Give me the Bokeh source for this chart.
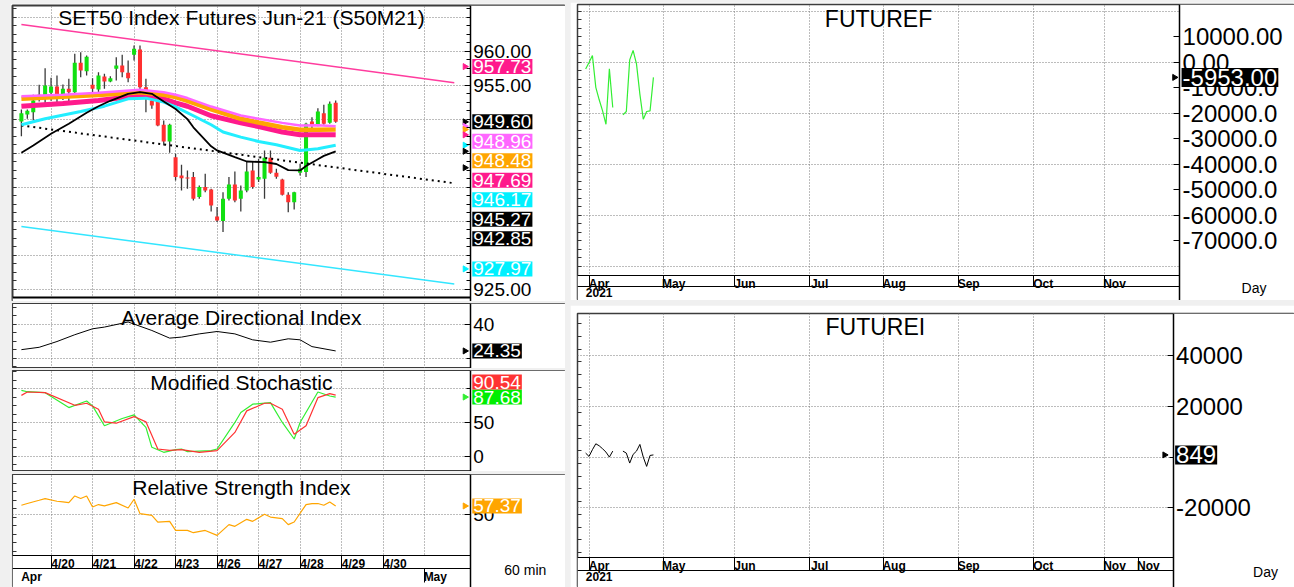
import math
import numpy as np
from bokeh.plotting import figure
from bokeh.layouts import column, row
from bokeh.models import Range1d, LinearAxis, FixedTicker, Grid, Label, ColumnDataSource, Spacer
from bokeh.embed import file_html
from bokeh.resources import INLINE

FONT = "Liberation Sans"
GRID_COL = "#7a7a7a"

# ---------------- SET50 hourly candles (bar index 0..53) ----------------
bar_index = list(range(54))
opens = [949.66, 950.69, 951.03, 953.14, 953.48, 953.87, 954.80, 953.58, 954.46, 953.97,
         958.28, 957.06, 955.05, 954.36, 956.27, 955.54, 957.40, 957.89, 956.81, 959.46,
         960.25, 954.71, 952.75, 952.99, 949.17, 946.72, 944.41, 941.72, 941.40, 941.47,
         938.53, 940.00, 939.66, 935.69, 935.00, 938.28, 940.39, 938.28, 939.51, 942.45,
         941.13, 941.23, 944.31, 942.11, 941.13, 938.87, 937.79, 942.11, 942.21, 949.66,
         949.17, 950.88, 949.46, 952.40]
closes = [950.88, 951.23, 952.75, 953.58, 954.95, 954.80, 953.63, 954.46, 953.97, 958.28,
          957.16, 959.17, 954.46, 956.42, 955.54, 956.03, 957.89, 956.91, 956.03, 960.34,
          954.71, 954.22, 952.01, 949.07, 946.72, 949.17, 941.47, 941.32, 941.25, 938.28,
          940.00, 939.51, 937.30, 935.10, 938.28, 940.39, 938.04, 939.51, 942.30, 940.00,
          941.47, 944.31, 942.11, 941.52, 938.87, 937.79, 939.26, 942.70, 949.31, 949.07,
          951.13, 949.31, 952.25, 949.60]
highs = [951.42, 951.42, 953.58, 955.05, 957.50, 956.08, 956.42, 955.10, 955.93, 959.61,
         959.85, 959.36, 956.03, 956.91, 956.67, 956.32, 959.12, 959.46, 958.63, 960.83,
         960.83, 955.93, 953.24, 953.24, 949.80, 949.31, 944.90, 943.28, 942.45, 942.21,
         940.25, 941.96, 939.75, 937.06, 939.26, 941.47, 942.30, 940.25, 943.68, 943.77,
         944.17, 945.39, 945.39, 942.70, 941.23, 939.26, 939.30, 943.43, 949.46, 950.29,
         951.62, 952.11, 952.60, 952.75]
lows = [947.50, 950.05, 949.80, 952.60, 952.30, 952.70, 952.40, 952.80, 952.50, 953.73,
        956.18, 956.42, 953.48, 953.97, 954.46, 955.44, 955.69, 956.18, 955.44, 958.63,
        954.22, 951.03, 951.52, 948.97, 946.13, 945.05, 940.98, 939.51, 939.75, 938.04,
        938.28, 939.26, 936.42, 934.85, 933.38, 938.04, 937.79, 936.42, 939.26, 939.75,
        940.74, 938.28, 941.96, 941.23, 938.77, 936.32, 936.72, 941.72, 941.47, 948.58,
        948.97, 949.17, 949.31, 949.46]

day_labels = ["4/20", "4/21", "4/22", "4/23", "4/26", "4/27", "4/28", "4/29", "4/30"]
day_bars = [5, 12, 19, 26, 33, 40, 47, 54, 61]
month60_labels = ["Apr", "May"]
month60_label_bars = [1.7, 69.8]
month60_tick_bars = [68]

# moving averages (read at anchor bars)
ma_bar = [0, 7, 13, 20, 24, 26, 28, 32, 37, 40, 44, 47, 50, 53]
ma_violet = [953.38, 953.6, 953.87, 954.31, 953.95, 953.6, 953.1, 951.85, 950.54, 950.05, 949.45, 949.07, 949.1, 948.96]
ma_orange = [952.99, 953.3, 953.55, 953.97, 953.58, 953.24, 952.7, 951.45, 950.05, 949.5, 948.8, 948.43, 948.45, 948.48]
ma_pink = [951.91, 952.3, 952.75, 953.48, 952.99, 952.4, 951.9, 950.5, 949.46, 948.9, 948.1, 947.70, 947.72, 947.69]
cyan_bar = [0, 4, 10, 14, 18, 21, 24, 26, 29, 32, 34, 37, 40, 43, 47, 50, 53]
ma_cyan = [949.17, 950.05, 951.13, 951.91, 952.99, 953.09, 952.5, 951.8, 950.5, 949.17, 948.1, 947.35, 946.72, 946.23, 945.39, 945.64, 946.17]
black_bar = [0, 2, 5, 8, 11, 13, 15, 18, 20, 22, 24, 26, 28, 29, 32, 33, 36, 38, 41, 43, 45, 47, 48, 50, 51, 53]
ma_black = [945.06, 946.13, 947.84, 949.31, 950.93, 951.9, 952.7, 953.73, 953.97, 953.73, 952.6, 951.5, 950.0,
            948.8, 946.0, 945.4, 944.41, 943.77, 943.68, 943.4, 942.5, 942.45, 943.1, 944.1, 944.6, 945.27]

# trend lines
trend_bar = [0, 73]
upper_channel = [963.92, 955.36]
trend_dotted = [949.07, 940.57]
lower_channel = [934.22, 925.76]

main_badge_vals = [957.73, 949.60, 948.96, 948.48, 947.69, 946.17, 945.27, 942.85, 927.97]
main_badge_cols = ["#FF1A8C", "#000000", "#FF66FF", "#FFA500", "#FF1A8C", "#00F0FF", "#000000", "#000000", "#00F0FF"]
main_grid_vals = [925, 930, 935, 940, 945, 950, 955, 960, 965]
main_tick_vals = [925, 955, 960]
main_tick_labels = ["925.00", "955.00", "960.00"]

# ADX
adx_bar = [0, 3, 6, 9, 12, 14, 18, 22, 25, 27, 30, 33, 36, 39, 42, 45, 47, 49, 53]
adx_val = [25.1, 26.5, 29.9, 33.9, 37.4, 38.4, 41.4, 36.4, 31.9, 32.5, 34.4, 35.8, 34.4, 30.9, 29.5, 31.5, 30.9, 26.9, 24.35]

# Modified stochastic
stoch_g_bar = [0, 1, 4, 8, 11, 12, 14, 17, 19, 21, 22, 24, 26, 27, 28, 32, 33, 36, 37, 39, 42, 44, 46, 47, 50, 52, 53]
stoch_g_val = [97.6, 95.6, 94.2, 72.1, 81.9, 74.6, 45.2, 56.0, 61.4, 42.7, 13.3, 5.9, 9.9, 10.8, 6.9, 8.4, 10.8,
               50.1, 64.8, 77.1, 79.5, 50.1, 25.6, 50.1, 95.2, 89.3, 87.68]
stoch_r_bar = [0, 1, 4, 9, 11, 13, 14, 16, 19, 21, 23, 25, 27, 30, 33, 36, 38, 41, 42, 44, 46, 48, 50, 52, 53]
stoch_r_val = [90.2, 95.2, 94.2, 75.5, 78.5, 69.6, 51.0, 49.0, 58.8, 51.0, 10.8, 8.8, 9.9, 5.9, 8.4, 35.3, 67.2,
               78.5, 78.5, 69.6, 32.8, 45.2, 86.8, 92.7, 90.54]

# RSI
rsi_bar = [0, 1, 3, 4, 6, 7, 8, 9, 10, 11, 12, 13, 14, 16, 18, 19, 20, 22, 23, 25, 26, 28, 29, 31, 33, 35, 36,
           38, 39, 41, 42, 44, 45, 46, 48, 49, 50, 51, 52, 53]
rsi_val = [58.0, 59.5, 62.4, 63.9, 61.5, 60.9, 60.3, 66.2, 63.9, 66.2, 56.5, 58.6, 57.4, 60.3, 55.6, 63.3, 50.6,
           49.1, 43.2, 43.8, 35.8, 35.8, 33.8, 35.8, 31.4, 40.9, 39.4, 45.6, 43.8, 50.0, 47.6, 46.2, 40.9, 43.2,
           58.6, 59.5, 59.5, 58.0, 60.9, 57.37]

# ---------------- daily FUTUREF / FUTUREI (weekday index from 1 Apr 2021) ----------------
fut_day = list(range(-1, 20))
futuref = [-2632, -132, 2632, -9870, -14739, -19082, -24346, -2632, -17766, np.nan, np.nan,
           -20661, -19345, 921, 4606, -658, -12502, -22372, -19345, -19082, -5953]
futurei = [1569, 261, 2902, 5229, 4444, 3268, 1961, 0, 2353, np.nan, np.nan,
           2353, 1569, -2353, 1046, 2353, 4980, 0, -3660, 653, 849]
month_labels = ["Apr", "May", "Jun", "Jul", "Aug", "Sep", "Oct", "Nov"]
month_days = [0, 22, 43, 65, 87, 109, 131, 152]
futi_month_labels = ["Apr", "May", "Jun", "Jul", "Aug", "Sep", "Oct", "Nov", "Nov"]
futi_month_days = [0, 22, 43, 65, 87, 109, 131, 152, 162]
futf_tick_vals = [-70000, -60000, -50000, -40000, -30000, -20000, -10000, 0, 10000]
futf_tick_labels = ["-70000.0", "-60000.0", "-50000.0", "-40000.0", "-30000.0", "-20000.0", "-10000.0",
                    "0.00", "10000.00"]
futf_grid_vals = [-80000, -60000, -40000, -20000, 0, 20000]
futi_tick_vals = [-20000, 20000, 40000]
futi_tick_labels = ["-20000", "20000", "40000"]
futi_grid_vals = [-20000, 0, 20000, 40000]


# ---------------- layout helpers (pixel geometry) ----------------
def make_fig(w, h, xr, yr, bl, bt, bb=0, ow=1.5):
    p = figure(width=w, height=h, x_range=Range1d(*xr), y_range=Range1d(*yr),
               x_axis_location=None, y_axis_location="right",
               output_backend="svg", toolbar_location=None,
               min_border_left=bl, min_border_right=0, min_border_top=bt, min_border_bottom=bb,
               background_fill_color="white", border_fill_color="white",
               outline_line_color="#3c3c3c", outline_line_width=ow)
    p.grid.visible = False
    return p


def add_grid(p, dim, ticks):
    p.add_layout(Grid(dimension=dim, ticker=FixedTicker(ticks=ticks), grid_line_color=GRID_COL,
                      grid_line_dash="1 2", grid_line_width=1))


def white_box(p, x0, x1, y0, y1):
    p.quad(left=[x0], right=[x1], bottom=[y0], top=[y1], fill_color="white", line_color=None)


def style_right_axis(p, loc, ticks, labels, minor, size):
    ax = p.yaxis[0]
    ax.fixed_location = loc
    ax.ticker = FixedTicker(ticks=ticks, minor_ticks=minor)
    ax.major_label_overrides = {t: s for t, s in zip(ticks, labels)}
    ax.major_label_text_font = FONT
    ax.major_label_text_font_size = size
    ax.major_label_text_color = "black"
    ax.major_label_standoff = 3
    ax.major_tick_in = 6
    ax.major_tick_out = 0
    ax.minor_tick_in = 4
    ax.minor_tick_out = 0
    ax.axis_line_color = "black"
    ax.axis_line_width = 1.5


def add_left_ticks(p, pos):
    ax = LinearAxis(ticker=FixedTicker(ticks=[], minor_ticks=pos),
                    major_tick_in=0, major_tick_out=0, minor_tick_in=4, minor_tick_out=0,
                    axis_line_color=None, minor_tick_line_color="#333333")
    p.add_layout(ax, "left")


def add_badges(p, loc, vals, cols, y_top, ppu, box_h, size, fmt, direction, xoff=2):
    order = sorted(range(len(vals)), key=lambda k: -vals[k] if direction == "down" else vals[k])
    prev = None
    for k in order:
        px = (y_top - vals[k]) * ppu
        if prev is not None:
            if direction == "down" and px < prev + box_h:
                px = prev + box_h
            if direction == "up" and px > prev - box_h:
                px = prev - box_h
        prev = px
        p.add_layout(Label(x=loc, y=y_top - px / ppu, text=fmt(vals[k]), x_offset=xoff,
                           text_align="left", text_baseline="middle", text_font=FONT,
                           text_font_size=size, text_color="white",
                           background_fill_color=cols[k], padding=1))


def add_arrows(p, loc, vals, cols, dx):
    p.scatter(x=[loc - dx] * len(vals), y=vals, marker="triangle", angle=-math.pi / 2,
              size=6, color=cols)


def add_title(p, xc, y_top, text, size, dy):
    p.add_layout(Label(x=xc, y=y_top, y_offset=-dy, text=text,
                       text_align="center", text_baseline="middle", text_font=FONT,
                       text_font_size=size, text_color="black"))


def date_axis(p, loc, bounds, label_pos, labels, bound_ticks, tick_len, size="12px"):
    ax = LinearAxis(fixed_location=loc, bounds=bounds,
                    ticker=FixedTicker(ticks=label_pos, minor_ticks=bound_ticks),
                    major_label_overrides={a: s for a, s in zip(label_pos, labels)})
    ax.major_label_text_font = FONT
    ax.major_label_text_font_size = size
    ax.major_label_text_font_style = "bold"
    ax.major_label_text_color = "black"
    ax.major_tick_in = 0
    ax.major_tick_out = 0
    ax.minor_tick_in = 0
    ax.minor_tick_out = tick_len
    ax.minor_tick_line_color = "black"
    ax.major_label_standoff = 1 - tick_len
    ax.axis_line_color = "black"
    p.add_layout(ax, "below")


def text_label(p, x, y, dx, dy, text, size):
    p.add_layout(Label(x=x, y=y, x_offset=dx, y_offset=dy, text=text, text_align="left",
                       text_baseline="middle", text_font=FONT, text_font_size=size,
                       text_color="black"))


# ---------------- left column ----------------
WL = 555
BAR_PX = 5.93
X0 = -1.5
AXL = 75.7                       # bar index of the price-axis line
XR = (X0, X0 + (WL - 2) / BAR_PX)
XC = (X0 + AXL) / 2
day_grid = day_bars + [68]

# main chart: frame 292 px tall
main_h = 298
main_top, main_bot = 966.72, 923.76
main_ppu = 292 / (main_top - main_bot)
main_yr = (main_bot - 4 / main_ppu, main_top)
main = make_fig(WL, main_h, XR, main_yr, 2, 2, 0, ow=2)
add_grid(main, 0, day_grid)
add_grid(main, 1, main_grid_vals)
white_box(main, AXL, XR[1], main_yr[0], main_yr[1])
white_box(main, X0, XR[1], main_yr[0], main_bot)
style_right_axis(main, AXL, main_tick_vals, main_tick_labels, list(np.arange(923.75, 966.7, 1.25)), "19px")
add_left_ticks(main, list(np.arange(925, 966.7, 1.25)))

up_col = ["#11E011" if c >= o else "#FF3030" for o, c in zip(opens, closes)]
src = ColumnDataSource(dict(i=bar_index, o=opens, h=highs, l=lows, c=closes,
                            top=[max(a, b) for a, b in zip(opens, closes)],
                            bot=[min(a, b) for a, b in zip(opens, closes)], col=up_col))
main.segment(x0="i", y0="l", x1="i", y1="h", source=src, line_color="#3a3a3a", line_width=1.3)
main.vbar(x="i", width=0.68, top="top", bottom="bot", fill_color="col", line_color=None, source=src)

main.line(trend_bar, upper_channel, line_color="#FF3C9E", line_width=1.5)
main.line(trend_bar, lower_channel, line_color="#33E6FF", line_width=1.5)
main.line(trend_bar, trend_dotted, line_color="black", line_width=2, line_dash="2 4")
main.line(ma_bar, ma_pink, line_color="#FF1A8C", line_width=5)
main.line(ma_bar, ma_orange, line_color="#FFA500", line_width=4.5)
main.line(ma_bar, ma_violet, line_color="#FF66FF", line_width=2.5)
main.line(cyan_bar, ma_cyan, line_color="#22EEFF", line_width=3)
main.line(black_bar, ma_black, line_color="black", line_width=1.8)
main.segment(x0=[X0], y0=[main_bot], x1=[AXL], y1=[main_bot], line_color="black", line_width=2)
add_title(main, XC, main_top, "SET50 Index Futures Jun-21 (S50M21)", "21px", 12)
add_arrows(main, AXL, main_badge_vals, main_badge_cols, 0.9)
add_badges(main, AXL, main_badge_vals, main_badge_cols, main_top, main_ppu, 19.5, "19px",
           lambda v: f"{v:.2f}", "down")

# ADX
adx_h = 65
adx_yr = (14, 52.3)
adx_ppu = adx_h / (adx_yr[1] - adx_yr[0])
adx = make_fig(WL, adx_h, XR, adx_yr, 2, 0, 0, ow=1.2)
add_grid(adx, 0, day_grid)
add_grid(adx, 1, [20, 40])
white_box(adx, AXL, XR[1], adx_yr[0], adx_yr[1])
style_right_axis(adx, AXL, [40], ["40"], [20], "19px")
add_left_ticks(adx, list(np.arange(15, 52, 5)))
adx.line(adx_bar, adx_val, line_color="black", line_width=1)
add_title(adx, XC, adx_yr[1], "Average Directional Index", "21px", 13.5)
add_arrows(adx, AXL, [24.35], ["black"], 0.9)
add_badges(adx, AXL, [24.35], ["#000000"], adx_yr[1], adx_ppu, 19.5, "19px", lambda v: f"{v:.2f}", "down")

# Stochastic
st_h = 101
st_yr = (-22.5, 127)
st_ppu = st_h / (st_yr[1] - st_yr[0])
st = make_fig(WL, st_h, XR, st_yr, 2, 0, 0, ow=1.2)
add_grid(st, 0, day_grid)
add_grid(st, 1, [0, 50, 100])
white_box(st, AXL, XR[1], st_yr[0], st_yr[1])
style_right_axis(st, AXL, [0, 50], ["0", "50"], [100], "19px")
add_left_ticks(st, list(np.arange(-12.5, 127, 12.5)))
st.line(stoch_g_bar, stoch_g_val, line_color="#33EE33", line_width=1.2)
st.line(stoch_r_bar, stoch_r_val, line_color="#FF3333", line_width=1.2)
add_title(st, XC, st_yr[1], "Modified Stochastic", "21px", 12.3)
add_arrows(st, AXL, [87.68], ["#33EE33"], 0.9)
add_badges(st, AXL, [90.54, 87.68], ["#FF3333", "#00EE00"], st_yr[1], st_ppu, 15, "19px",
           lambda v: f"{v:.2f}", "up")

# RSI (frame also holds the two date rows below the plot area)
rsi_h = 113
rsi_plot_px = 81
rsi_top, rsi_bot = 85.1, 13.7
rsi_ppu = rsi_plot_px / (rsi_top - rsi_bot)
rsi_yr = (rsi_bot - (rsi_h - rsi_plot_px) / rsi_ppu, rsi_top)
rsi = make_fig(WL, rsi_h, XR, rsi_yr, 2, 0, 0, ow=1.2)
add_grid(rsi, 0, day_grid)
add_grid(rsi, 1, [50])
white_box(rsi, AXL, XR[1], rsi_yr[0], rsi_yr[1])
white_box(rsi, X0, XR[1], rsi_yr[0], rsi_bot)
style_right_axis(rsi, AXL, [50], ["50"], [], "19px")
add_left_ticks(rsi, list(np.arange(17.5, 85, 7.5)))
rsi.line(rsi_bar, rsi_val, line_color="#FFA500", line_width=1.2)
add_title(rsi, XC, rsi_top, "Relative Strength Index", "21px", 13.3)
add_arrows(rsi, AXL, [57.37], ["#FFA500"], 0.9)
add_badges(rsi, AXL, [57.37], ["#FFA500"], rsi_top, rsi_ppu, 19.5, "19px", lambda v: f"{v:.2f}", "down")
date_axis(rsi, rsi_bot, (X0, AXL), [b + 2.0 for b in day_bars], day_labels, day_bars, 13)
date_axis(rsi, rsi_bot - 13 / rsi_ppu, (X0, AXL), month60_label_bars, month60_labels, month60_tick_bars, 14)
text_label(rsi, AXL, rsi_bot, 34, -14, "60 min", "14px")

left = column(Spacer(height=3), main, Spacer(height=2), adx, Spacer(height=2), st, Spacer(height=3), rsi,
              spacing=0)

# ---------------- right column ----------------
WR = 724
DAY_PX = 3.39
XF0 = -3.4
XFR = (XF0, XF0 + (WR - 7) / DAY_PX)

# FUTUREF: frame top at y=4, plot bottom at y=275
ff_h = 298
ff_top, ff_bot = 22627, -83647
ff_plot_px = 271
ff_ppu = ff_plot_px / (ff_top - ff_bot)
ff_yr = (ff_bot - (ff_h - 2 - ff_plot_px) / ff_ppu, ff_top)
AXF = 174.2
ff = make_fig(WR, ff_h, XFR, ff_yr, 7, 2, 0, ow=1.5)
add_grid(ff, 0, month_days)
add_grid(ff, 1, futf_grid_vals)
white_box(ff, AXF, XFR[1], ff_yr[0], ff_yr[1])
white_box(ff, XF0, XFR[1], ff_yr[0], ff_bot)
style_right_axis(ff, AXF, futf_tick_vals, futf_tick_labels, [], "24px")
add_left_ticks(ff, list(np.arange(-80000, 22000, 3333.3)))
ff.line(fut_day, np.array(futuref, dtype=float), line_color="#33EE33", line_width=1.2)
add_title(ff, (XF0 + AXF) / 2, ff_top, "FUTUREF", "23px", 14)
add_arrows(ff, AXF, [-5953], ["black"], 1.5)
add_badges(ff, AXF, [-5953.0], ["#000000"], ff_top, ff_ppu, 24, "24px", lambda v: f"{v:.2f}", "down")
date_axis(ff, ff_bot, (XF0, AXF), [d + 3 for d in month_days], month_labels, month_days, 11)
date_axis(ff, ff_bot - 11 / ff_ppu, (XF0, AXF), [3], ["2021"], [], 0)
text_label(ff, AXF, ff_bot, 62, -12, "Day", "14px")

# FUTUREI: frame top at y=313, plot bottom at y=557
fi_h = 282
fi_top, fi_bot = 56471, -39490
fi_plot_px = 244
fi_ppu = fi_plot_px / (fi_top - fi_bot)
fi_yr = (fi_bot - (fi_h - 8 - fi_plot_px) / fi_ppu, fi_top)
AXI = 172.3
fi = make_fig(WR, fi_h, XFR, fi_yr, 7, 8, 0, ow=1.5)
add_grid(fi, 0, month_days)
add_grid(fi, 1, futi_grid_vals)
white_box(fi, AXI, XFR[1], fi_yr[0], fi_yr[1])
white_box(fi, XF0, XFR[1], fi_yr[0], fi_bot)
style_right_axis(fi, AXI, futi_tick_vals, futi_tick_labels, [0], "24px")
add_left_ticks(fi, list(np.arange(-37500, 56000, 5000)))
fi.line(fut_day, np.array(futurei, dtype=float), line_color="black", line_width=1)
add_title(fi, (XF0 + AXI) / 2, fi_top, "FUTUREI", "23px", 13.7)
add_arrows(fi, AXI, [849], ["black"], 2.5)
add_badges(fi, AXI, [849], ["#000000"], fi_top, fi_ppu, 24, "24px", lambda v: f"{v:.0f}", "down")
date_axis(fi, fi_bot, (XF0, AXI), [d + 3 for d in futi_month_days], futi_month_labels, futi_month_days, 13)
date_axis(fi, fi_bot - 13 / fi_ppu, (XF0, AXI), [3], ["2021"], [], 0)
text_label(fi, AXI, fi_bot, 80, -14, "Day", "14px")

right = column(Spacer(height=2), ff, Spacer(height=5), fi, spacing=0)
layout = row(Spacer(width=10), left, Spacer(width=5), right, spacing=0,
             styles={"background-color": "#f0f0f0"})

open("out.html", "w").write(file_html(layout, INLINE))
